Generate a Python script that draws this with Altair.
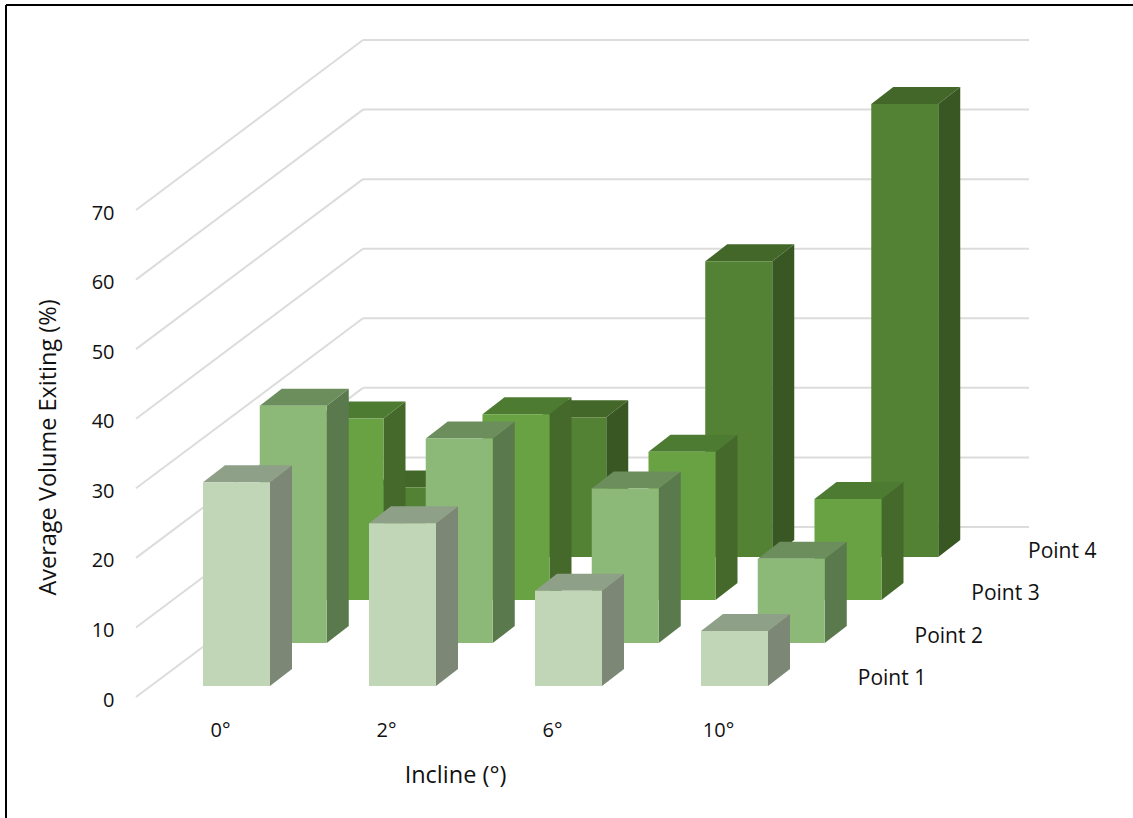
import json
import altair as alt
import pandas as pd

# Average volume exiting (%) at each sampling point, per incline
inclines = ["0°", "2°", "6°", "10°"]
points = ["Point 1", "Point 2", "Point 3", "Point 4"]
point_1 = [29.3, 23.4, 13.7, 7.9]
point_2 = [34.1, 29.4, 22.2, 12.1]
point_3 = [26.1, 26.7, 21.3, 14.5]
point_4 = [10.0, 20.1, 42.5, 65.1]
series_values = [point_1, point_2, point_3, point_4]
y_ticks = [0, 10, 20, 30, 40, 50, 60, 70]

# Face colours per series: front, side, top
front_colors = ["#c1d5b7", "#8cb978", "#68a242", "#548235"]
side_colors = ["#7c8875", "#5a794d", "#45692b", "#385723"]
top_colors = ["#8fa088", "#6c8e5d", "#4d7b32", "#436729"]
grid_color = "#dcdcdc"
font = "Open Sans"
text_color = "#111111"
LABEL_SIZE = 20
POINT_SIZE = 21
TITLE_SIZE = 23.5

# Canvas layout
W, H = 1127, 813
PX_X = 166.0    # pixels per incline category
PX_Y = 6.957    # pixels per percentage point
ORIGIN_X, ORIGIN_Y = 214.0, 692.0   # plot position of the first category and of value 0

x_scale = alt.Scale(domain=[-ORIGIN_X / PX_X, (W - ORIGIN_X) / PX_X], nice=False, zero=False)
y_scale = alt.Scale(domain=[(ORIGIN_Y - H) / PX_Y, ORIGIN_Y / PX_Y], nice=False, zero=False)

# Oblique projection, in axis units
BAR_START = -17 / PX_X
BAR_WIDTH = 67 / PX_X
BAR_DEPTH_X = 22 / PX_X
BAR_DEPTH_Y = 17 / PX_Y
ROW_X = 56.75 / PX_X
ROW_Y = 43 / PX_Y
LABEL_ROW_Y = 42.5 / PX_Y
FLOOR_Y = 11 / PX_Y
WALL_FRONT = -84 / PX_X
WALL_BACK = 143 / PX_X
WALL_RIGHT = 809 / PX_X
WALL_RISE = 170 / PX_Y

axis_x = alt.Axis(
    values=[0, 1, 2, 3],
    labelExpr=f"{json.dumps(inclines, ensure_ascii=False)}[datum.value]",
    domain=False, ticks=False, grid=False, offset=-100, labelPadding=2,
    labelFont=font, labelFontSize=LABEL_SIZE, labelColor=text_color,
    titleFont=font, titleFontSize=TITLE_SIZE, titleFontWeight="normal", titleColor=text_color,
    titleX=449, titleY=57, titleBaseline="middle", labelFlush=False,
)
axis_y = alt.Axis(
    values=y_ticks,
    domain=False, ticks=False, grid=False, offset=-108, labelPadding=0, labelOffset=3,
    labelFont=font, labelFontSize=LABEL_SIZE, labelColor=text_color,
    titleFont=font, titleFontSize=TITLE_SIZE, titleFontWeight="normal", titleColor=text_color,
    titleX=-66, titleY=442, titleBaseline="middle",
)


def x_enc(field):
    return alt.X(f"{field}:Q", scale=x_scale, axis=axis_x, title="Incline (°)")


def y_enc(field):
    return alt.Y(f"{field}:Q", scale=y_scale, axis=axis_y, title="Average Volume Exiting (%)")


# Walls of the box: left wall runs back to the rear wall
grid_rows = []
for tick in y_ticks:
    grid_rows += [
        {"line": f"l{tick}", "px": WALL_FRONT, "py": tick},
        {"line": f"l{tick}", "px": WALL_BACK, "py": tick + WALL_RISE},
        {"line": f"b{tick}", "px": WALL_BACK, "py": tick + WALL_RISE},
        {"line": f"b{tick}", "px": WALL_RIGHT, "py": tick + WALL_RISE},
    ]

grid = (
    alt.Chart(pd.DataFrame(grid_rows))
    .mark_line(color=grid_color, strokeWidth=2)
    .encode(x=x_enc("px"), y=y_enc("py"), detail="line:N")
)

layers = [grid]

# Rows are painted from the rear forward so nearer bars cover farther ones
for s in reversed(range(len(points))):
    front_rows, side_rows, top_rows = [], [], []
    for c, value in enumerate(series_values[s]):
        x0 = c + BAR_START + s * ROW_X
        x1 = x0 + BAR_WIDTH
        base = FLOOR_Y + s * ROW_Y
        top = base + value
        front_rows.append({"x0": x0, "x1": x1, "y0": base, "y1": top})
        side_rows += [
            {"bar": c, "px": x1, "low": base, "high": top},
            {"bar": c, "px": x1 + BAR_DEPTH_X, "low": base + BAR_DEPTH_Y, "high": top + BAR_DEPTH_Y},
        ]
        top_rows += [
            {"bar": c, "py": top, "left": x0, "right": x1},
            {"bar": c, "py": top + BAR_DEPTH_Y, "left": x0 + BAR_DEPTH_X, "right": x1 + BAR_DEPTH_X},
        ]
    layers.append(
        alt.Chart(pd.DataFrame(side_rows))
        .mark_area(orient="vertical", color=side_colors[s])
        .encode(x=x_enc("px"), y=y_enc("low"), y2="high:Q", detail="bar:N")
    )
    layers.append(
        alt.Chart(pd.DataFrame(top_rows))
        .mark_area(orient="horizontal", color=top_colors[s])
        .encode(y=y_enc("py"), x=x_enc("left"), x2="right:Q", detail="bar:N")
    )
    layers.append(
        alt.Chart(pd.DataFrame(front_rows))
        .mark_rect(color=front_colors[s])
        .encode(x=x_enc("x0"), x2="x1:Q", y=y_enc("y0"), y2="y1:Q")
    )

# Depth axis labels step back with the rows
depth_labels = pd.DataFrame(
    {
        "name": points,
        "px": [672 / PX_X + i * ROW_X for i in range(len(points))],
        "py": [18 / PX_Y + i * LABEL_ROW_Y for i in range(len(points))],
    }
)
layers.append(
    alt.Chart(depth_labels)
    .mark_text(font=font, fontSize=POINT_SIZE, color=text_color, align="center", baseline="middle")
    .encode(x=x_enc("px"), y=y_enc("py"), text="name:N")
)

# Frame along the top and left edges
frame = pd.DataFrame({"k": [0]})
layers.append(
    alt.Chart(frame).mark_rule(color="black", strokeWidth=2)
    .encode(x=alt.value(0), x2=alt.value(W), y=alt.value(0))
)
layers.append(
    alt.Chart(frame).mark_rule(color="black", strokeWidth=2)
    .encode(x=alt.value(0), y=alt.value(0), y2=alt.value(H))
)

chart = (
    alt.layer(*layers)
    .properties(
        width=W,
        height=H,
        padding={"left": 6, "top": 5, "right": 0, "bottom": 0},
        autosize=alt.AutoSizeParams(type="none"),
        background="white",
    )
    .configure_view(stroke=None)
)

chart.save("out.html", embed_options={"renderer": "svg", "actions": False})
